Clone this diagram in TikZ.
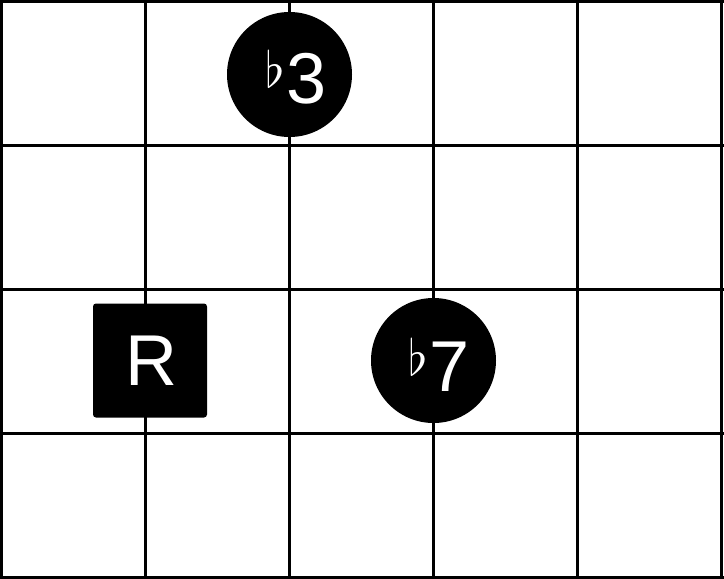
\documentclass[tikz,border=0pt]{standalone}
\usepackage{fontspec}
\usepackage{graphicx}
\setmainfont{Liberation Sans}
\tikzset{
  gridline/.style={line width=3pt, black},
  dot/.style={circle, fill=black, minimum size=125pt, inner sep=0pt},
  rootbox/.style={rectangle, fill=black, minimum size=114pt, inner sep=0pt, rounded corners=3pt},
  lbl/.style={text=white, inner sep=0pt},
}
\newcommand{\myflat}{\raisebox{16pt}{\scalebox{5}{$\flat$}}\hspace{2pt}}
\newcommand{\bigtxt}[1]{\fontsize{72}{72}\selectfont #1}
\begin{document}
\begin{tikzpicture}[x=1pt,y=-1pt]
\useasboundingbox (0,0) rectangle (724,579);
\foreach \i in {0,...,5} {\draw[gridline] (1.5+144*\i,0) -- (1.5+144*\i,579);}
\foreach \j in {0,...,4} {\draw[gridline] (0,1.5+144*\j) -- (724,1.5+144*\j);}
\node[dot] (b3) at (289.5,74.5) {};
\node[dot] (b7) at (433.5,360.5) {};
\node[rootbox] (r) at (150,360.5) {};
\node[lbl, anchor=base] (b3t) at (296,103) {\myflat\bigtxt{3}};
\node[lbl, anchor=base] (b7t) at (439,391) {\myflat\bigtxt{7}};
\node[lbl, anchor=base] (rt) at (151,385) {\bigtxt{R}};
\end{tikzpicture}
\end{document}
